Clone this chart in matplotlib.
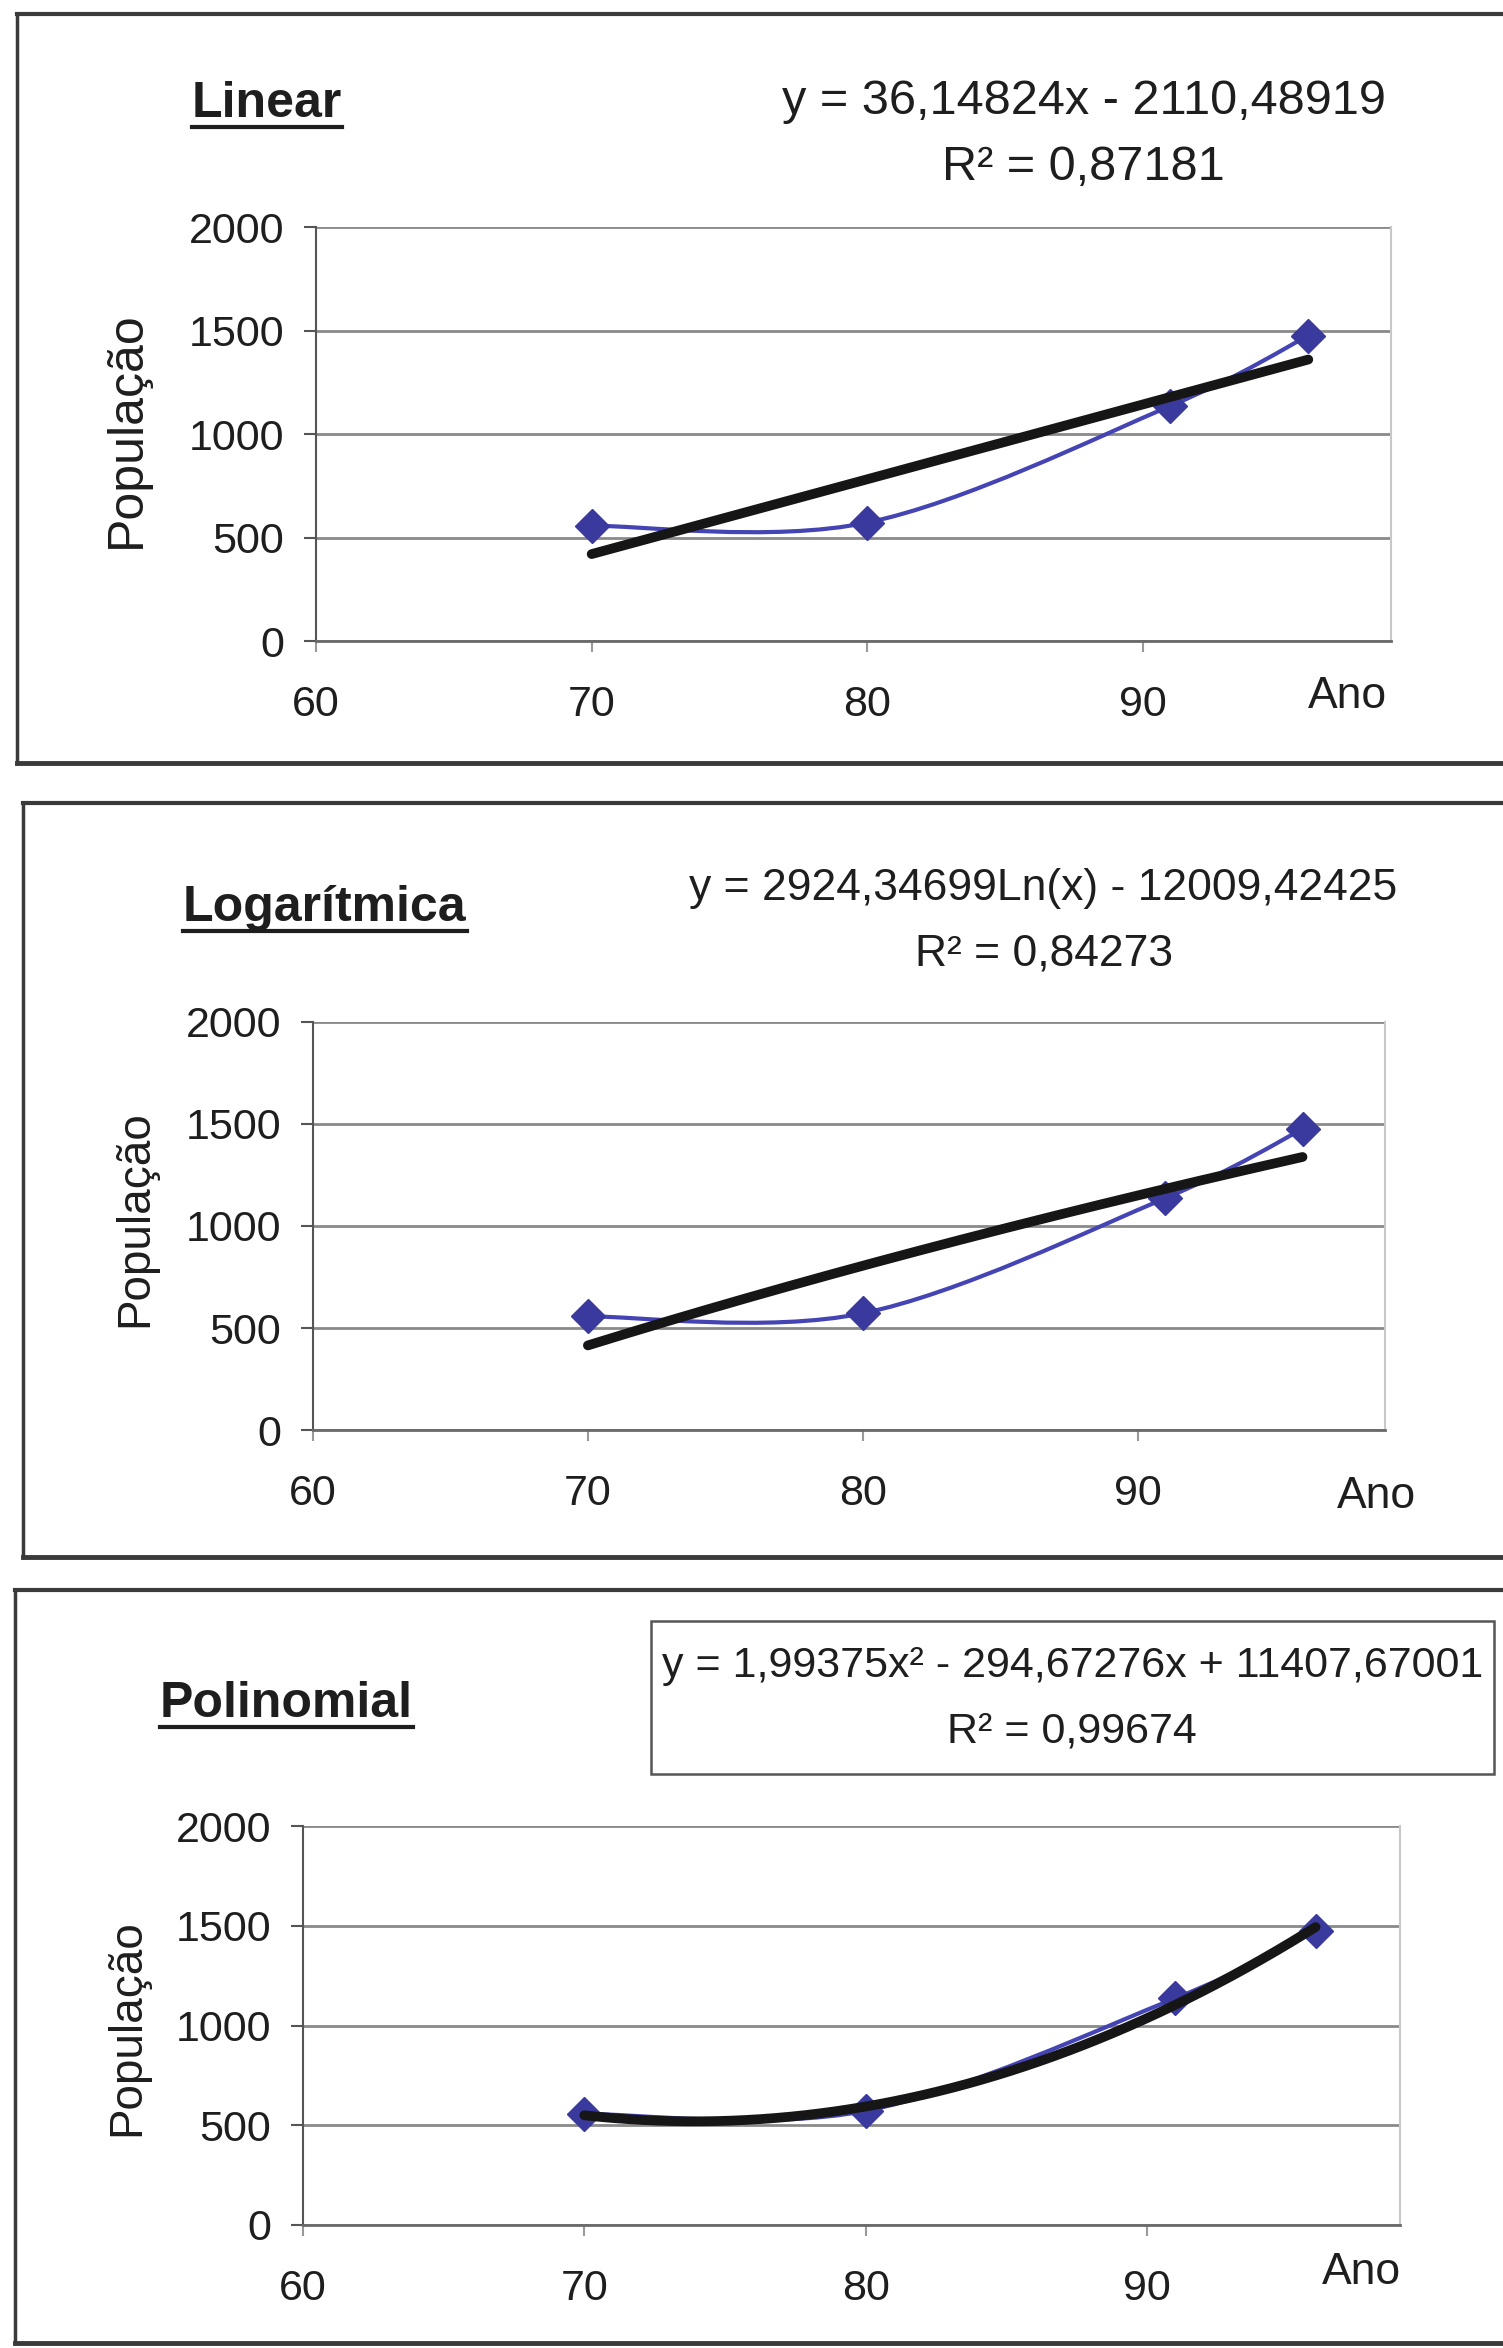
import numpy as np
import matplotlib
matplotlib.use("Agg")
import matplotlib.pyplot as plt
from matplotlib.path import Path
from matplotlib.patches import PathPatch, Rectangle
from matplotlib.lines import Line2D

plt.rcParams['font.family'] = ['Liberation Sans', 'DejaVu Sans']

# census years and population
anos = [70, 80, 91, 96]
populacao = [557, 572, 1136, 1475]

# trend line coefficients, as printed on the chart
lin_a, lin_b = 36.14824, -2110.48919
log_a, log_b = 2924.34699, -12009.42425
pol_a, pol_b, pol_c = 1.99375, -294.67276, 11407.67001

titulos = ["Linear", "Logarítmica", "Polinomial"]
equacoes = ["y = 36,14824x - 2110,48919",
            "y = 2924,34699Ln(x) - 12009,42425",
            "y = 1,99375x\u00b2 - 294,67276x + 11407,67001"]
r2_textos = ["R\u00b2 = 0,87181", "R\u00b2 = 0,84273", "R\u00b2 = 0,99674"]
xticks = [60, 70, 80, 90]
yticks = [0, 500, 1000, 1500, 2000]

W, H = 1503, 2348
fig = plt.figure(figsize=(W / 100, H / 100), dpi=100)


def fx(x):
    return x / W


def fy(y):
    return 1 - y / H


# panel layout in pixels
paineis = [
    dict(ax=(316, 1391, 227, 641), tit=(192, 117), eq=(1084, 102), r2=(1083, 168),
         yl=(127, 430), ano=(1347, 697), frame=(17, 14, 763), eqfs=35, ylfs=36),
    dict(ax=(313, 1385, 1022, 1430), tit=(183, 921), eq=(1043, 888), r2=(1044, 954),
         yl=(135, 1219), ano=(1376, 1497), frame=(23, 803, 1557), eqfs=32, ylfs=33),
    dict(ax=(303, 1400, 1826, 2225), tit=(160, 1717), eq=(1073, 1666), r2=(1072, 1732),
         yl=(127, 2028), ano=(1361, 2272), frame=(15, 1590, 2343), eqfs=31, ylfs=33),
]

blue = '#3a3a9e'
xs_trend = np.linspace(min(anos), max(anos), 200)
trends = [lin_a * xs_trend + lin_b,
          log_a * np.log(xs_trend) + log_b,
          pol_a * xs_trend ** 2 + pol_b * xs_trend + pol_c]


def smooth_path(x, y):
    # bezier smoothing like excel's "smoothed line"
    pts = np.column_stack([x, y]).astype(float)
    n = len(pts)
    verts = [pts[0]]
    codes = [Path.MOVETO]
    for i in range(n - 1):
        p0 = pts[max(i - 1, 0)]
        p1 = pts[i]
        p2 = pts[i + 1]
        p3 = pts[min(i + 2, n - 1)]
        verts += [p1 + (p2 - p0) / 6, p2 - (p3 - p1) / 6, p2]
        codes += [Path.CURVE4] * 3
    return Path(verts, codes)


texts_tit = []
for k, p in enumerate(paineis):
    L, R, T, B = p['ax']
    ax = fig.add_axes([fx(L), fy(B), (R - L) / W, (B - T) / H])
    ax.set_xlim(60, 99)
    ax.set_ylim(0, 2000)
    ax.set_xticks(xticks)
    ax.set_yticks(yticks)
    ax.grid(axis='y', color='#8a8a8a', lw=2)
    ax.set_axisbelow(True)
    ax.spines['top'].set_visible(False)
    ax.spines['right'].set_color('#c8c8c8')
    ax.spines['right'].set_linewidth(1.5)
    ax.spines['left'].set_color('#555555')
    ax.spines['left'].set_linewidth(1.5)
    ax.spines['bottom'].set_color('#6a6a6a')
    ax.spines['bottom'].set_linewidth(2)
    ax.tick_params(axis='y', labelsize=31, length=9, width=1.5, color='#555555',
                   pad=14, labelcolor='#1e1e1e')
    ax.tick_params(axis='x', labelsize=31, length=8, width=1.5, color='#999999',
                   pad=24, labelcolor='#1e1e1e')

    ax.add_patch(PathPatch(smooth_path(anos, populacao), facecolor='none',
                           edgecolor='#4444b4', lw=3, zorder=3))
    ax.plot(anos, populacao, ls='none', marker='D', ms=17, color=blue,
            mec=blue, zorder=4)
    ax.plot(xs_trend, trends[k], color='#161616', lw=7, solid_capstyle='round',
            zorder=5)

    t = fig.text(fx(p['tit'][0]), fy(p['tit'][1]), titulos[k], fontsize=36,
                 fontweight='bold', ha='left', va='baseline', color='#1e1e1e')
    texts_tit.append((t, p['tit'][1]))
    fig.text(fx(p['eq'][0]), fy(p['eq'][1]), equacoes[k], fontsize=p['eqfs'],
             ha='center', va='center', color='#1e1e1e')
    fig.text(fx(p['r2'][0]), fy(p['r2'][1]), r2_textos[k], fontsize=p['eqfs'],
             ha='center', va='center', color='#1e1e1e')
    fig.text(fx(p['yl'][0]), fy(p['yl'][1]), "População", fontsize=p['ylfs'],
             rotation=90, ha='center', va='center', color='#1e1e1e')
    fig.text(fx(p['ano'][0]), fy(p['ano'][1]), "Ano", fontsize=32,
             ha='center', va='center', color='#1e1e1e')

    # panel frame (right side runs off the page)
    xl, yt, yb = p['frame']
    fig.add_artist(Line2D([fx(xl), 1.01], [fy(yt), fy(yt)], color='#3a3a3a', lw=3))
    fig.add_artist(Line2D([fx(xl), 1.01], [fy(yb), fy(yb)], color='#3a3a3a', lw=3.5))
    fig.add_artist(Line2D([fx(xl), fx(xl)], [fy(yt), fy(yb)], color='#3a3a3a', lw=2.5))

# box around the polynomial equation
fig.add_artist(Rectangle((fx(651), fy(1774)), (1494 - 651) / W, (1774 - 1621) / H,
                         transform=fig.transFigure, fill=False, ec='#555555', lw=1.8))

# underline the titles
renderer = fig.canvas.get_renderer()
for t, base in texts_tit:
    bb = t.get_window_extent(renderer)
    fig.add_artist(Line2D([bb.x0 / W, bb.x1 / W], [fy(base + 10), fy(base + 10)],
                          color='#1e1e1e', lw=3))

fig.savefig('out.png', dpi=100)
